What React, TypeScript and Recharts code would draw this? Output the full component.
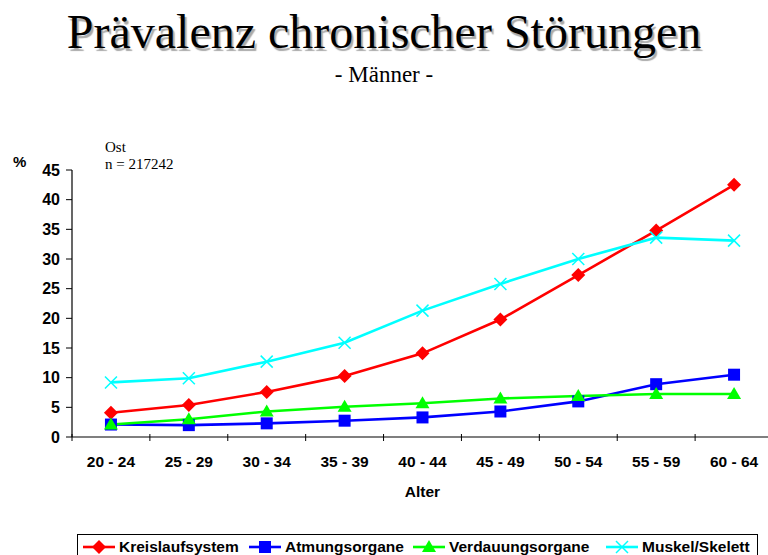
import { LineChart, Line, XAxis, YAxis } from "recharts";

const ageGroups = ["20 - 24", "25 - 29", "30 - 34", "35 - 39", "40 - 44", "45 - 49", "50 - 54", "55 - 59", "60 - 64"];
const kreislauf = [4.1, 5.4, 7.6, 10.3, 14.1, 19.8, 27.3, 34.8, 42.5];
const atmung = [2.1, 2.0, 2.3, 2.75, 3.3, 4.3, 6.0, 8.9, 10.5];
const verdauung = [2.1, 3.0, 4.3, 5.1, 5.7, 6.5, 6.9, 7.25, 7.25];
const muskel = [9.2, 9.9, 12.7, 15.9, 21.3, 25.8, 30.0, 33.6, 33.1];
const yTicks = [0, 5, 10, 15, 20, 25, 30, 35, 40, 45];

const data = ageGroups.map((age, i) => ({
  age,
  kreislauf: kreislauf[i],
  atmung: atmung[i],
  verdauung: verdauung[i],
  muskel: muskel[i],
}));

// the chart fills the whole page, so drop the default body margin
if (typeof document !== "undefined") document.body.style.margin = "0";

const SANS = '"Liberation Sans", Arial, sans-serif';
const SERIF = '"Liberation Serif", "Times New Roman", serif';

// plot box (page pixels)
const CHART_W = 800;
const CHART_H = 555;
const PLOT_LEFT = 72;
const PLOT_RIGHT = 773;
const PLOT_TOP = 170;
const PLOT_BOTTOM = 437;
const Y_AXIS_W = 52;
const X_AXIS_H = 60;
const BAND = (PLOT_RIGHT - PLOT_LEFT) / ageGroups.length;

type MarkerKind = "diamond" | "square" | "triangle" | "cross";

function Marker({ kind, cx, cy, color }: { kind: MarkerKind; cx: number; cy: number; color: string }) {
  if (cx == null || cy == null) return null;
  if (kind === "diamond") {
    return <polygon points={`${cx},${cy - 7} ${cx + 7},${cy} ${cx},${cy + 7} ${cx - 7},${cy}`} fill={color} />;
  }
  if (kind === "square") {
    return <rect x={cx - 6} y={cy - 6} width={12} height={12} fill={color} />;
  }
  if (kind === "triangle") {
    return <polygon points={`${cx},${cy - 7} ${cx + 7},${cy + 5} ${cx - 7},${cy + 5}`} fill={color} />;
  }
  return (
    <g stroke={color} strokeWidth={1.5}>
      <line x1={cx - 6} y1={cy - 6} x2={cx + 6} y2={cy + 6} />
      <line x1={cx - 6} y1={cy + 6} x2={cx + 6} y2={cy - 6} />
    </g>
  );
}

const SERIES: { key: string; name: string; color: string; marker: MarkerKind }[] = [
  { key: "kreislauf", name: "Kreislaufsystem", color: "#ff0000", marker: "diamond" },
  { key: "atmung", name: "Atmungsorgane", color: "#0000ff", marker: "square" },
  { key: "verdauung", name: "Verdauungsorgane", color: "#00ff00", marker: "triangle" },
  { key: "muskel", name: "Muskel/Skelett", color: "#00ffff", marker: "cross" },
];

// legend entry positions
const LEGEND_X = [83, 249, 413, 606];

function AgeTick(props: any) {
  const { x, y, payload, index } = props;
  const left = x - BAND / 2;
  return (
    <g>
      <line x1={left} y1={y - 3} x2={left} y2={y + 4} stroke="#000" />
      {index === ageGroups.length - 1 && (
        <line x1={x + BAND / 2} y1={y - 3} x2={x + BAND / 2} y2={y + 4} stroke="#000" />
      )}
      <text x={x} y={y + 30} textAnchor="middle" fontFamily={SANS} fontWeight="bold" fontSize={15.5} fill="#000">
        {payload.value}
      </text>
    </g>
  );
}

export default function App() {
  return (
    <div
      style={{
        position: "relative",
        width: 768,
        height: 555,
        overflow: "hidden",
        background: "#fff",
      }}
    >
      <div
        style={{
          position: "absolute",
          top: 8,
          left: 0,
          width: 768,
          textAlign: "center",
          fontFamily: SERIF,
          fontSize: 48,
          lineHeight: 1,
          color: "#000",
          textShadow: "2px 3px 1px #aaa",
          whiteSpace: "nowrap",
        }}
      >
        Prävalenz chronischer Störungen
      </div>
      <div
        style={{
          position: "absolute",
          top: 63,
          left: 0,
          width: 768,
          textAlign: "center",
          fontFamily: SERIF,
          fontSize: 23,
          lineHeight: 1,
        }}
      >
        - Männer -
      </div>
      <div style={{ position: "absolute", left: 105, top: 140, fontFamily: SERIF, fontSize: 15, lineHeight: 1 }}>
        Ost
      </div>
      <div style={{ position: "absolute", left: 105, top: 157, fontFamily: SERIF, fontSize: 15, lineHeight: 1 }}>
        n = 217242
      </div>
      <div
        style={{
          position: "absolute",
          left: 13,
          top: 154,
          fontFamily: SANS,
          fontWeight: "bold",
          fontSize: 15,
          lineHeight: 1,
        }}
      >
        %
      </div>

      <div style={{ position: "absolute", left: 0, top: 0 }}>
        <LineChart
          width={CHART_W}
          height={CHART_H}
          data={data}
          margin={{
            top: PLOT_TOP,
            right: CHART_W - PLOT_RIGHT,
            bottom: CHART_H - PLOT_BOTTOM - X_AXIS_H,
            left: PLOT_LEFT - Y_AXIS_W,
          }}
        >
          <XAxis
            dataKey="age"
            scale="band"
            interval={0}
            height={X_AXIS_H}
            axisLine={{ stroke: "#000", strokeWidth: 1.2 }}
            tickLine={false}
            tickSize={0}
            tickMargin={0}
            tick={<AgeTick />}
            label={{
              value: "Alter",
              position: "insideBottom",
              offset: 0,
              fill: "#000",
              fontFamily: SANS,
              fontWeight: "bold",
              fontSize: 15.5,
            }}
          />
          <YAxis
            width={Y_AXIS_W}
            domain={[0, 45]}
            ticks={yTicks}
            interval={0}
            axisLine={{ stroke: "#000", strokeWidth: 1.2 }}
            tickLine={{ stroke: "#000" }}
            tickSize={6}
            tickMargin={6}
            tick={{ fill: "#000", fontFamily: SANS, fontWeight: "bold", fontSize: 16 }}
          />
          {SERIES.map((s) => (
            <Line
              key={s.key}
              dataKey={s.key}
              name={s.name}
              type="linear"
              stroke={s.color}
              strokeWidth={2.6}
              isAnimationActive={false}
              dot={(p: any) => (
                <Marker key={`${s.key}-${p.index}`} kind={s.marker} cx={p.cx} cy={p.cy} color={s.color} />
              )}
              activeDot={false}
            />
          ))}
        </LineChart>
      </div>

      <div
        style={{
          position: "absolute",
          left: 77,
          top: 534,
          width: 681,
          height: 32,
          border: "1px solid #000",
          boxSizing: "border-box",
        }}
      />
      {SERIES.map((s, i) => (
        <div
          key={s.key}
          style={{
            position: "absolute",
            left: LEGEND_X[i],
            top: 539,
            display: "flex",
            alignItems: "center",
            whiteSpace: "nowrap",
          }}
        >
          <svg width={34} height={16} style={{ display: "block" }}>
            <line x1={0} y1={8} x2={32} y2={8} stroke={s.color} strokeWidth={2.6} />
            <Marker kind={s.marker} cx={16} cy={8} color={s.color} />
          </svg>
          <span style={{ fontFamily: SANS, fontWeight: "bold", fontSize: 15.5, lineHeight: "16px", marginLeft: 2 }}>
            {s.name}
          </span>
        </div>
      ))}
    </div>
  );
}
